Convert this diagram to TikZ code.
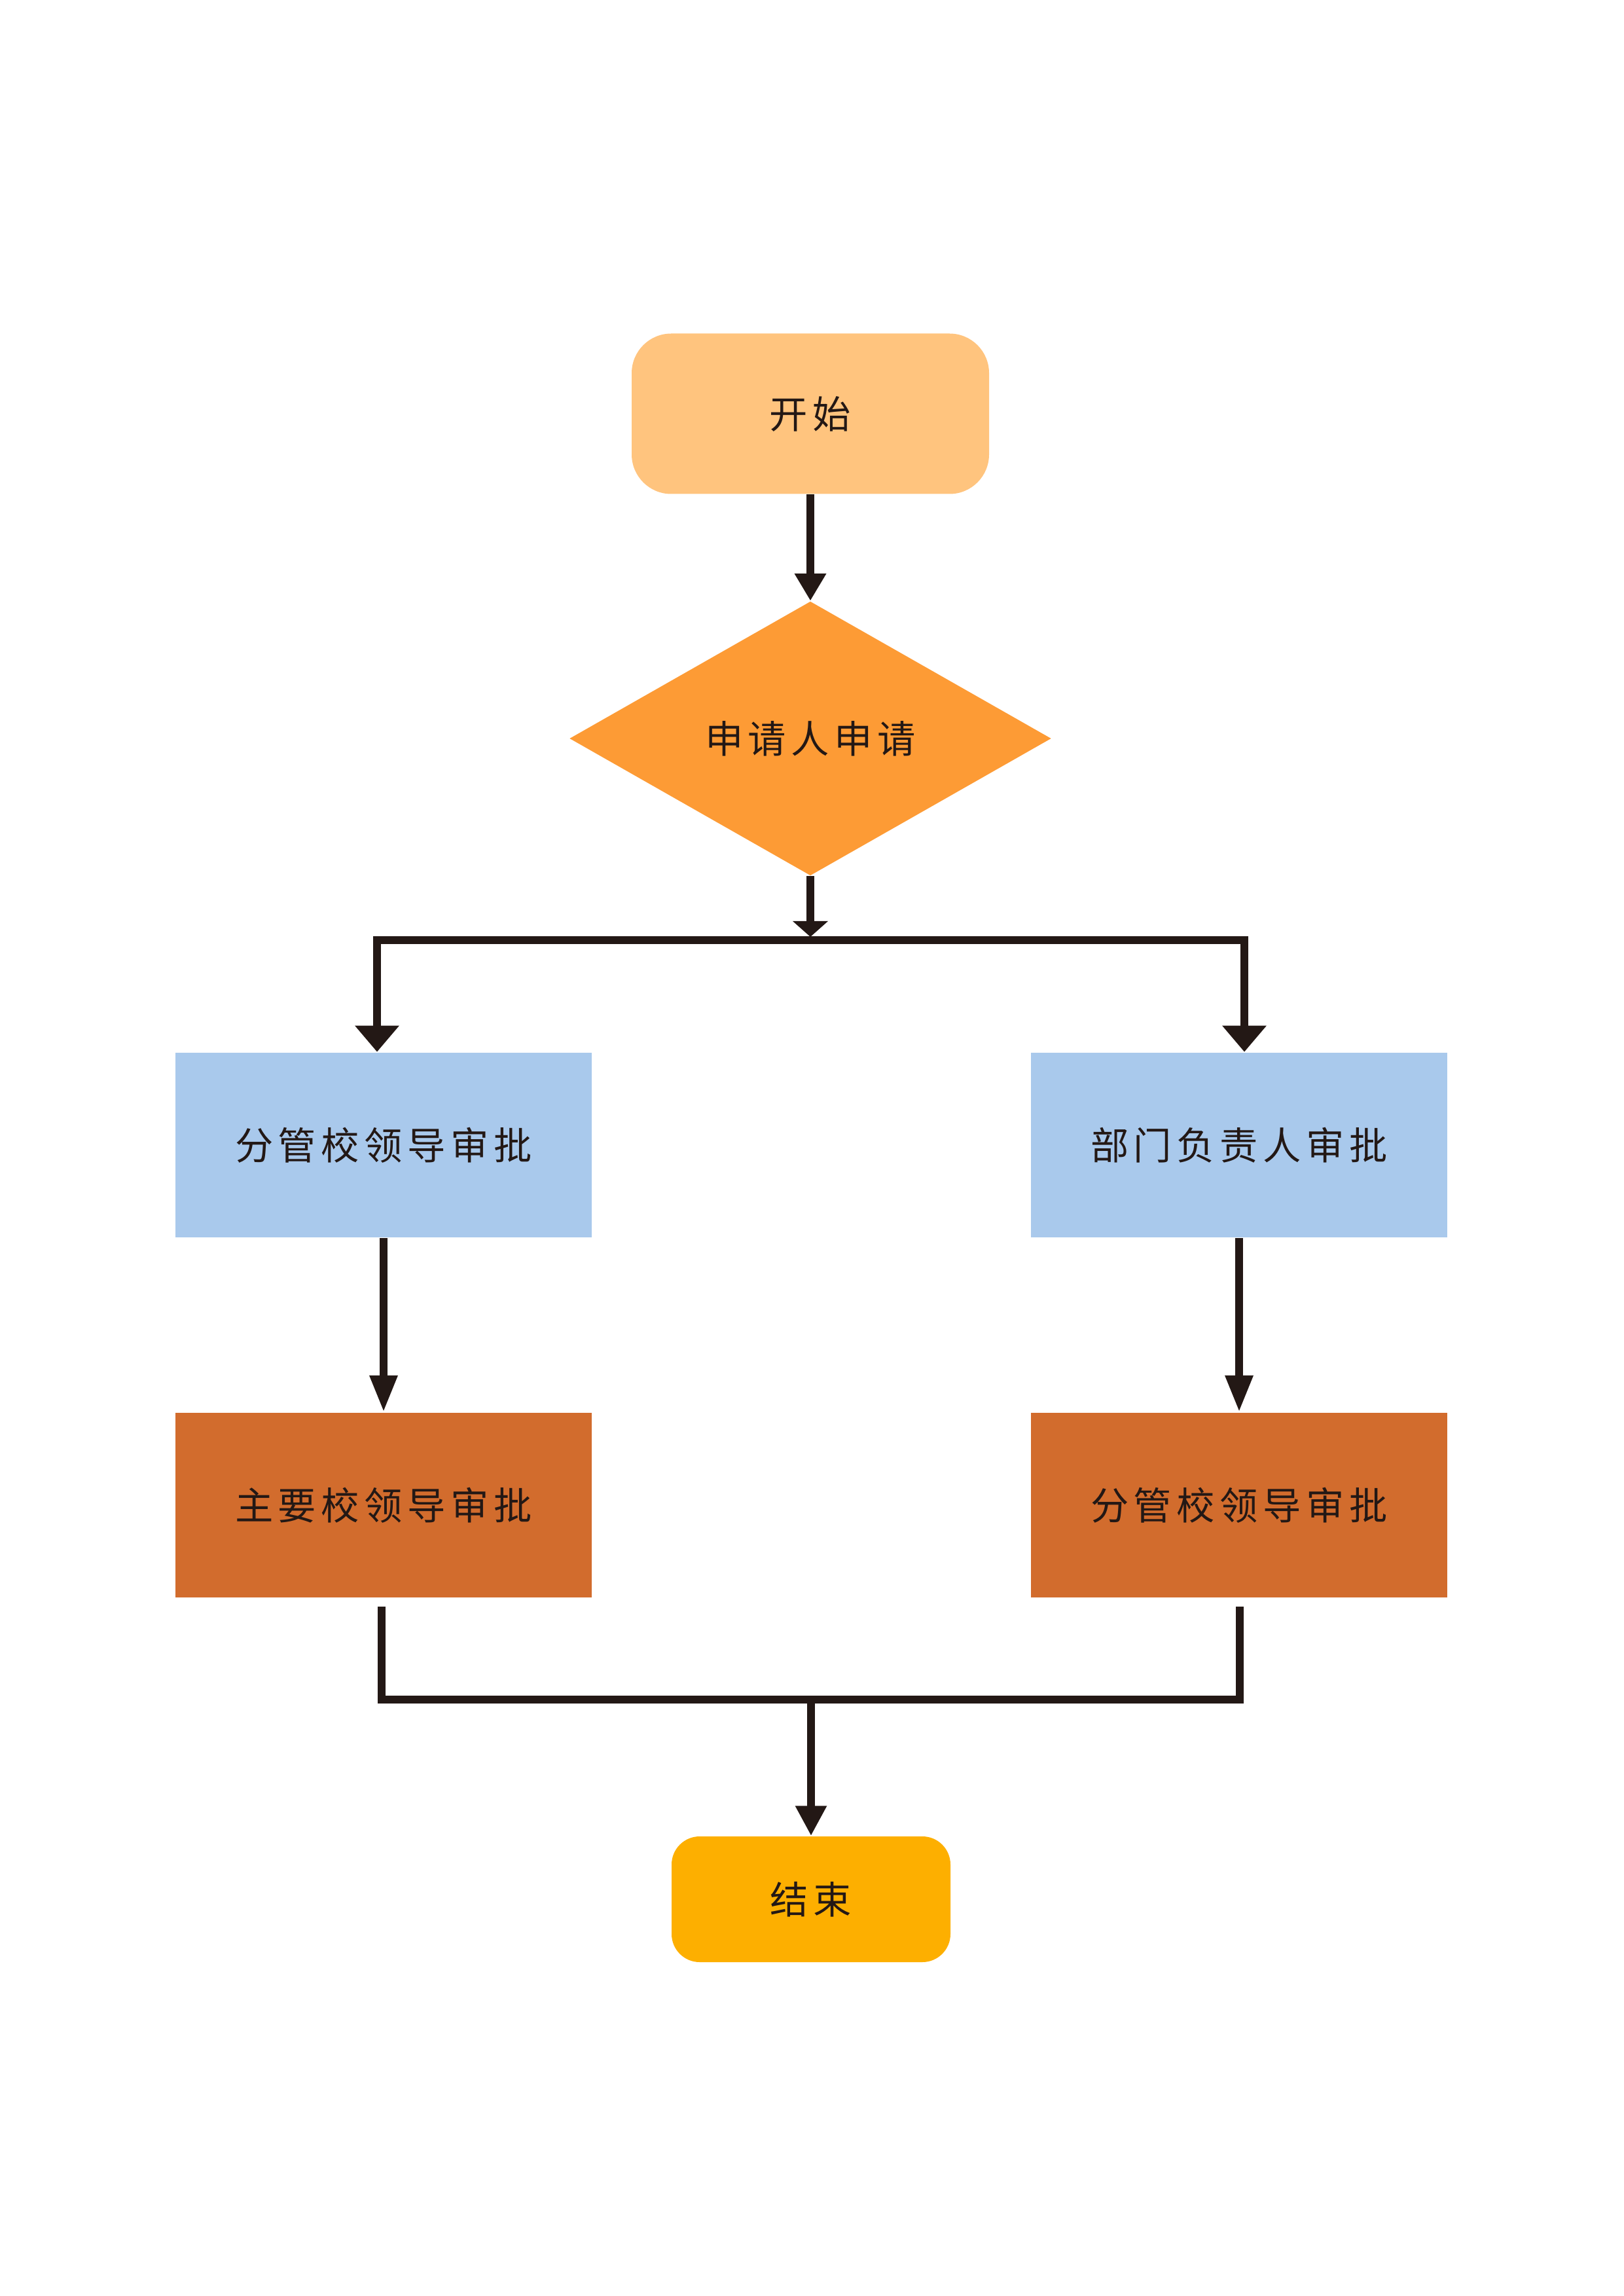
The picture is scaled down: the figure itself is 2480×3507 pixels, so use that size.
\documentclass[tikz,border=0pt]{standalone}
\usepackage{fontspec}
\usetikzlibrary{shapes.geometric,arrows.meta}
\newfontfamily\cjkfont{Noto Sans CJK SC}[LetterSpace=13]
\definecolor{ink}{HTML}{231815}
\definecolor{cstart}{HTML}{FFC47E}
\definecolor{cdec}{HTML}{FD9B35}
\definecolor{cblue}{HTML}{A9C9EC}
\definecolor{cbrown}{HTML}{D26C2D}
\definecolor{cend}{HTML}{FDAF00}
\tikzset{
  lbl/.style={font=\cjkfont\fontsize{14pt}{16pt}\selectfont, text=ink, inner sep=0pt},
  terminal/.style={lbl, rectangle, rounded corners=14.5pt, minimum width=131.04pt, minimum height=58.8pt},
  decision/.style={lbl, diamond, minimum width=176.64pt, minimum height=100.56pt},
  procbox/.style={lbl, rectangle, minimum width=152.64pt, minimum height=67.9pt},
  conn/.style={draw=ink, line width=2.9pt, line join=miter},
  tipA/.style={-{Triangle[width=11pt,length=10pt]}},
  tipS/.style={-{Triangle[width=12.7pt,length=5.8pt]}},
  tipB/.style={{Triangle[width=15.6pt,length=9.6pt]}-{Triangle[width=15.6pt,length=9.6pt]}},
  tipC/.style={-{Triangle[width=9.6pt,length=13.4pt]}},
  tipD/.style={-{Triangle[width=10.8pt,length=11pt]}},
}
\begin{document}
\begin{tikzpicture}[x=0.24pt,y=-0.24pt]
\useasboundingbox (0,0) rectangle (2480,3507);
\fill[white] (0,0) rectangle (2480,3507);
% nodes
\node[terminal, fill=cstart] (start) at (1238,632) {开始};
\node[decision, fill=cdec] (dec) at (1238,1128) {申请人申请};
\node[procbox, fill=cblue] (L1) at (586,1749) {分管校领导审批};
\node[procbox, fill=cblue] (R1) at (1893,1749) {部门负责人审批};
\node[procbox, fill=cbrown] (L2) at (586,2299) {主要校领导审批};
\node[procbox, fill=cbrown] (R2) at (1893,2299) {分管校领导审批};
\node[terminal, fill=cend, rounded corners=10.3pt, minimum width=102.24pt, minimum height=46.08pt] (end) at (1239,2901) {结束};
% coordinates
\coordinate (bsplit) at (1238,1431);
\coordinate (bl) at (576,1436);
\coordinate (br) at (1901,1436);
\coordinate (jl) at (583,2454);
\coordinate (jr) at (1894,2454);
\coordinate (jm) at (1239,2596);
% connectors
\draw[conn, tipA] (start.south) -- (dec.north);
\draw[conn, tipS] (dec.south) -- (bsplit);
\draw[conn, tipB] (bl |- L1.north) -- (bl) -- (br) -- (br |- R1.north);
\draw[conn, tipC] (L1.south) -- (L2.north);
\draw[conn, tipC] (R1.south) -- (R2.north);
\draw[conn] (jl) -- (jl |- jm) -- (jr |- jm) -- (jr);
\draw[conn, tipD] (jm) -- (end.north);
\end{tikzpicture}
\end{document}
